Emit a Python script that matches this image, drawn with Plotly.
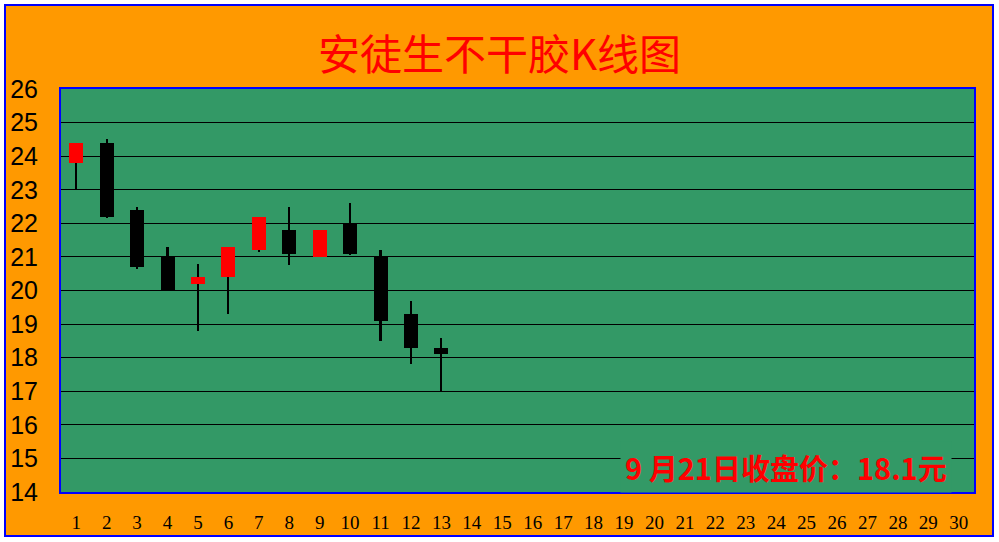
import plotly.graph_objects as go

# ---- data ----
day_labels = [str(i) for i in range(1, 31)]
days = list(range(1, 14))
open_p = [23.8, 24.4, 22.4, 21.0, 20.2, 20.4, 21.2, 21.8, 21.0, 22.0, 21.0, 19.3, 18.3]
close_p = [24.4, 22.2, 20.7, 20.0, 20.4, 21.3, 22.2, 21.1, 21.8, 21.1, 19.1, 18.3, 18.1]
high_p = [24.4, 24.5, 22.5, 21.3, 20.8, 21.3, 22.2, 22.5, 21.8, 22.6, 21.2, 19.7, 18.6]
low_p = [23.0, 22.15, 20.65, 20.0, 18.8, 19.3, 21.15, 20.75, 21.0, 21.05, 18.5, 17.8, 17.0]
y_ticks = list(range(14, 27))
title_text = "安徒生不干胶K线图"
note_date = "9 月21日"

W, H = 999, 542
ML, MR, MT, MB = 61, 25, 89, 50
PW, PH = W - ML - MR, H - MT - MB


def px(x):
    return (x - ML) / PW


def py(y):
    return (H - MB - y) / PH


ORANGE = "#FF9900"
GREEN = "#339966"

fig = go.Figure()
# wicks
fig.add_trace(go.Bar(
    x=days, y=[h - l for h, l in zip(high_p, low_p)], base=low_p,
    width=0.07, marker=dict(color="black", line=dict(width=0)),
    hoverinfo="skip", showlegend=False))
# bodies
body_base = [min(o, c) for o, c in zip(open_p, close_p)]
body_h = [max(abs(c - o), 0.05) for o, c in zip(open_p, close_p)]
body_col = ["#FF0000" if c >= o else "#000000" for o, c in zip(open_p, close_p)]
fig.add_trace(go.Bar(
    x=days, y=body_h, base=body_base, width=0.46,
    marker=dict(color=body_col, line=dict(width=0)),
    showlegend=False))

shapes = []
# white outer strips
for x0, x1, y0, y1 in [(0, 4, 0, H), (994, W, 0, H), (0, W, 0, 4), (0, W, 537, H)]:
    shapes.append(dict(type="rect", xref="paper", yref="paper",
                       x0=px(x0), x1=px(x1), y0=py(y1), y1=py(y0),
                       fillcolor="white", line=dict(width=0), layer="above"))
# outer blue border
shapes.append(dict(type="rect", xref="paper", yref="paper",
                   x0=px(5), x1=px(993), y0=py(536), y1=py(5),
                   line=dict(color="#0000FF", width=2), fillcolor="rgba(0,0,0,0)"))

fig.update_layout(
    width=W, height=H,
    margin=dict(l=ML, r=MR, t=MT, b=MB, pad=0),
    paper_bgcolor=ORANGE, plot_bgcolor=GREEN,
    barmode="overlay", bargap=0,
    title=dict(text=title_text, x=0.5, xref="container", xanchor="center",
               y=1 - 55 / H, yref="container", yanchor="middle",
               font=dict(family="Noto Sans CJK SC", size=42, color="#FF0000")),
    xaxis=dict(range=[0.5, 30.5], tickmode="array", tickvals=list(range(1, 31)),
               ticktext=day_labels, showgrid=False, zeroline=False, automargin=False,
               ticks="outside", ticklen=12, tickcolor="rgba(0,0,0,0)",
               tickfont=dict(family="Liberation Serif", size=19, color="black"),
               showline=True, linecolor="#0000FF", linewidth=2, mirror=True),
    yaxis=dict(range=[14, 26], tickmode="array", tickvals=y_ticks,
               showgrid=True, gridcolor="black", gridwidth=1, zeroline=False, automargin=False,
               ticks="outside", ticklen=16, tickcolor="rgba(0,0,0,0)",
               tickfont=dict(family="Liberation Sans", size=25, color="black"),
               showline=True, linecolor="#0000FF", linewidth=2, mirror=True),
    shapes=shapes,
    annotations=[dict(
        text=f"{note_date}收盘价：{close_p[-1]}元",
        xref="paper", yref="y", x=px(786), y=14.74,
        xanchor="center", yanchor="middle", showarrow=False,
        bgcolor=GREEN, borderpad=4,
        font=dict(family="Noto Sans CJK SC", size=29, color="#FF0000", weight="bold"))],
)

fig.write_html("out.html", config={"displayModeBar": False},
               post_script="document.body.style.margin='0';")
